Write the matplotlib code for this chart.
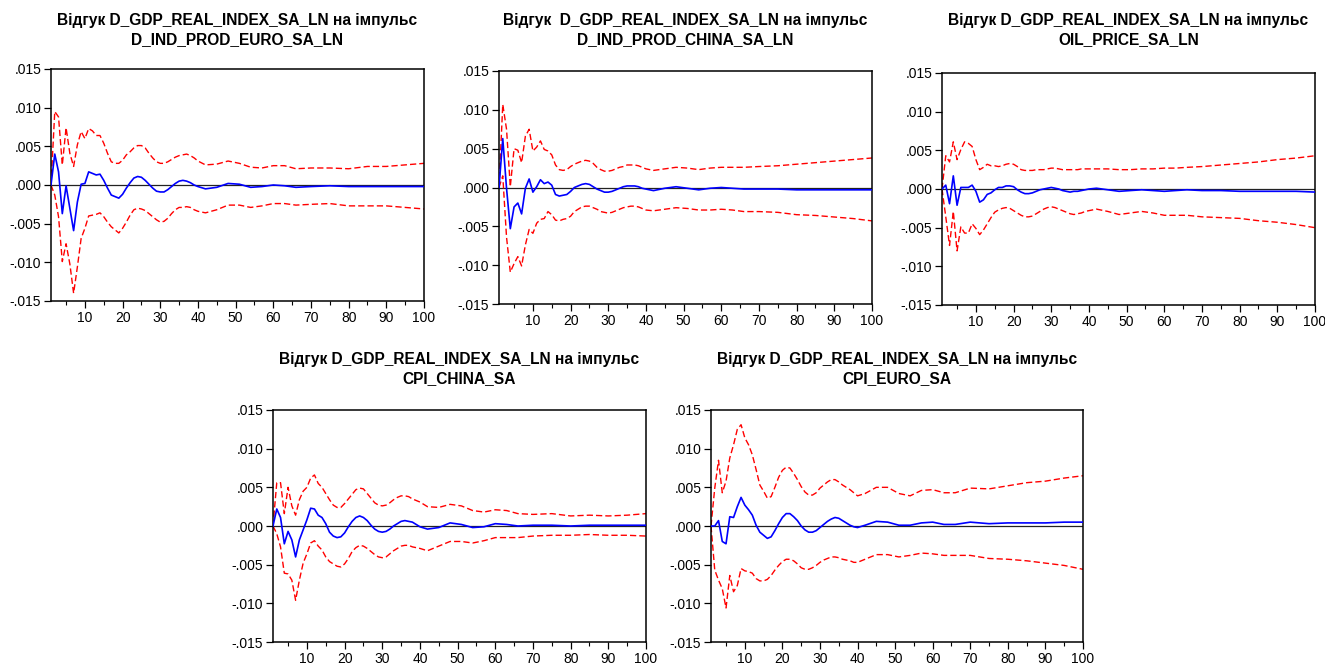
import matplotlib
matplotlib.use("Agg")
import matplotlib.pyplot as plt
from matplotlib.ticker import FixedLocator, FuncFormatter
import numpy as np

plt.rcParams["font.family"] = ["Liberation Sans", "DejaVu Sans"]

# horizon: every period up to 40, then a sparser read-off of the tail
periods = list(range(1, 41)) + [42, 45, 48, 51, 54, 57, 60, 63, 66, 70, 75, 80, 85, 90, 95, 100]

# ── response to D_IND_PROD_EURO_SA_LN ──
euro_resp = [0.0000, 0.0040, 0.0017, -0.0037, -0.0001, -0.0030, -0.0059, -0.0022, 0.0001, 0.0002,
             0.0017, 0.0015, 0.0013, 0.0014, 0.0006, -0.0004, -0.0013, -0.0015, -0.0017, -0.0012,
             -0.0004, 0.0003, 0.0009, 0.0011, 0.0010, 0.0006, 0.0001, -0.0004, -0.0008, -0.0009,
             -0.0009, -0.0006, -0.0002, 0.0002, 0.0005, 0.0006, 0.0005, 0.0003, 0.0000, -0.0002,
             -0.0005, -0.0003, 0.0002, 0.0001, -0.0003, -0.0002, 0.0000, -0.0001, -0.0003, -0.0002,
             -0.0001, -0.0002, -0.0002, -0.0002, -0.0002, -0.0002]
euro_hi = [0.0000, 0.0095, 0.0088, 0.0026, 0.0074, 0.0041, 0.0024, 0.0052, 0.0069, 0.0060,
           0.0073, 0.0070, 0.0064, 0.0064, 0.0054, 0.0041, 0.0030, 0.0028, 0.0028, 0.0032,
           0.0039, 0.0043, 0.0048, 0.0051, 0.0051, 0.0048, 0.0041, 0.0035, 0.0030, 0.0028,
           0.0028, 0.0030, 0.0033, 0.0036, 0.0038, 0.0039, 0.0040, 0.0038, 0.0035, 0.0031,
           0.0026, 0.0027, 0.0031, 0.0028, 0.0023, 0.0022, 0.0025, 0.0025, 0.0021, 0.0022,
           0.0022, 0.0021, 0.0024, 0.0024, 0.0026, 0.0028]
euro_lo = [0.0000, -0.0013, -0.0041, -0.0099, -0.0076, -0.0102, -0.0140, -0.0106, -0.0069, -0.0056,
           -0.0040, -0.0039, -0.0038, -0.0036, -0.0041, -0.0048, -0.0054, -0.0058, -0.0062, -0.0056,
           -0.0048, -0.0039, -0.0032, -0.0030, -0.0031, -0.0033, -0.0037, -0.0041, -0.0045, -0.0048,
           -0.0047, -0.0043, -0.0037, -0.0032, -0.0029, -0.0029, -0.0028, -0.0029, -0.0032, -0.0034,
           -0.0036, -0.0032, -0.0026, -0.0026, -0.0029, -0.0027, -0.0024, -0.0024, -0.0026, -0.0025,
           -0.0024, -0.0027, -0.0027, -0.0027, -0.0029, -0.0031]

# ── response to D_IND_PROD_CHINA_SA_LN ──
china_resp = [0.0000, 0.0063, -0.0001, -0.0053, -0.0025, -0.0020, -0.0034, -0.0001, 0.0011, -0.0006,
              0.0001, 0.0010, 0.0005, 0.0007, 0.0003, -0.0009, -0.0011, -0.0010, -0.0009, -0.0005,
              0.0000, 0.0002, 0.0004, 0.0005, 0.0004, 0.0001, -0.0002, -0.0004, -0.0006, -0.0006,
              -0.0005, -0.0003, -0.0001, 0.0001, 0.0002, 0.0002, 0.0002, 0.0001, -0.0001, -0.0002,
              -0.0004, -0.0001, 0.0001, -0.0001, -0.0003, -0.0001, 0.0000, -0.0001, -0.0002, -0.0002,
              -0.0002, -0.0003, -0.0003, -0.0003, -0.0003, -0.0003]
china_hi = [0.0000, 0.0107, 0.0075, 0.0001, 0.0050, 0.0048, 0.0032, 0.0066, 0.0075, 0.0047,
            0.0052, 0.0060, 0.0049, 0.0047, 0.0042, 0.0029, 0.0023, 0.0022, 0.0023, 0.0027,
            0.0030, 0.0032, 0.0034, 0.0035, 0.0034, 0.0031, 0.0026, 0.0023, 0.0021, 0.0021,
            0.0022, 0.0024, 0.0026, 0.0027, 0.0029, 0.0029, 0.0029, 0.0028, 0.0026, 0.0024,
            0.0022, 0.0024, 0.0026, 0.0025, 0.0023, 0.0025, 0.0026, 0.0026, 0.0026, 0.0027,
            0.0028, 0.0030, 0.0032, 0.0034, 0.0036, 0.0038]
china_lo = [0.0000, 0.0015, -0.0064, -0.0109, -0.0098, -0.0089, -0.0101, -0.0074, -0.0054, -0.0059,
            -0.0046, -0.0041, -0.0040, -0.0031, -0.0035, -0.0042, -0.0043, -0.0041, -0.0040, -0.0037,
            -0.0031, -0.0028, -0.0025, -0.0024, -0.0024, -0.0026, -0.0028, -0.0031, -0.0032, -0.0033,
            -0.0032, -0.0030, -0.0028, -0.0026, -0.0025, -0.0024, -0.0024, -0.0025, -0.0027, -0.0029,
            -0.0030, -0.0028, -0.0026, -0.0027, -0.0029, -0.0029, -0.0028, -0.0029, -0.0031, -0.0031,
            -0.0032, -0.0035, -0.0036, -0.0038, -0.0040, -0.0043]

# ── response to OIL_PRICE_SA_LN ──
oil_resp = [0.0000, 0.0005, -0.0019, 0.0017, -0.0021, 0.0002, 0.0002, 0.0002, 0.0005, -0.0003,
            -0.0017, -0.0014, -0.0007, -0.0005, -0.0001, 0.0002, 0.0002, 0.0004, 0.0004, 0.0003,
            -0.0001, -0.0004, -0.0006, -0.0006, -0.0005, -0.0003, -0.0001, 0.0000, 0.0001, 0.0002,
            0.0001, 0.0000, -0.0002, -0.0003, -0.0004, -0.0003, -0.0003, -0.0002, -0.0001, 0.0000,
            0.0001, -0.0001, -0.0003, -0.0002, -0.0001, -0.0002, -0.0003, -0.0002, -0.0001, -0.0002,
            -0.0002, -0.0003, -0.0003, -0.0003, -0.0003, -0.0004]
oil_hi = [0.0000, 0.0043, 0.0035, 0.0061, 0.0038, 0.0051, 0.0061, 0.0059, 0.0055, 0.0038,
          0.0025, 0.0028, 0.0032, 0.0030, 0.0030, 0.0029, 0.0030, 0.0032, 0.0033, 0.0032,
          0.0029, 0.0025, 0.0024, 0.0024, 0.0024, 0.0025, 0.0025, 0.0025, 0.0026, 0.0027,
          0.0027, 0.0026, 0.0025, 0.0025, 0.0025, 0.0025, 0.0025, 0.0026, 0.0026, 0.0026,
          0.0026, 0.0026, 0.0025, 0.0025, 0.0026, 0.0026, 0.0027, 0.0027, 0.0028, 0.0029,
          0.0031, 0.0033, 0.0035, 0.0038, 0.0040, 0.0043]
oil_lo = [0.0000, -0.0036, -0.0073, -0.0029, -0.0080, -0.0049, -0.0057, -0.0057, -0.0045, -0.0051,
          -0.0059, -0.0053, -0.0045, -0.0037, -0.0030, -0.0027, -0.0025, -0.0024, -0.0025, -0.0028,
          -0.0031, -0.0034, -0.0036, -0.0036, -0.0035, -0.0032, -0.0029, -0.0026, -0.0024, -0.0023,
          -0.0024, -0.0026, -0.0028, -0.0030, -0.0032, -0.0033, -0.0032, -0.0031, -0.0029, -0.0028,
          -0.0026, -0.0029, -0.0033, -0.0031, -0.0029, -0.0031, -0.0034, -0.0034, -0.0034, -0.0036,
          -0.0037, -0.0038, -0.0041, -0.0043, -0.0046, -0.0050]

# ── response to CPI_CHINA_SA ──
cpic_resp = [0.0000, 0.0022, 0.0011, -0.0023, -0.0007, -0.0018, -0.0040, -0.0018, -0.0005, 0.0008,
             0.0023, 0.0022, 0.0014, 0.0011, 0.0003, -0.0008, -0.0013, -0.0015, -0.0014, -0.0009,
             -0.0001, 0.0006, 0.0011, 0.0013, 0.0011, 0.0007, 0.0001, -0.0004, -0.0007, -0.0008,
             -0.0007, -0.0004, 0.0000, 0.0003, 0.0006, 0.0007, 0.0006, 0.0005, 0.0002, -0.0001,
             -0.0004, -0.0002, 0.0004, 0.0002, -0.0002, -0.0001, 0.0003, 0.0002, 0.0000, 0.0001,
             0.0001, 0.0000, 0.0001, 0.0001, 0.0001, 0.0001]
cpic_hi = [0.0000, 0.0056, 0.0056, 0.0016, 0.0050, 0.0026, 0.0014, 0.0034, 0.0045, 0.0050,
           0.0062, 0.0066, 0.0055, 0.0050, 0.0042, 0.0034, 0.0027, 0.0024, 0.0024, 0.0029,
           0.0035, 0.0041, 0.0047, 0.0049, 0.0048, 0.0042, 0.0036, 0.0030, 0.0027, 0.0026,
           0.0027, 0.0030, 0.0034, 0.0037, 0.0039, 0.0039, 0.0038, 0.0035, 0.0033, 0.0031,
           0.0025, 0.0024, 0.0028, 0.0026, 0.0020, 0.0018, 0.0021, 0.0020, 0.0016, 0.0015,
           0.0016, 0.0013, 0.0014, 0.0013, 0.0014, 0.0016]
cpic_lo = [0.0000, -0.0010, -0.0027, -0.0061, -0.0062, -0.0070, -0.0096, -0.0070, -0.0048, -0.0036,
           -0.0022, -0.0019, -0.0026, -0.0031, -0.0040, -0.0046, -0.0049, -0.0052, -0.0053, -0.0049,
           -0.0042, -0.0033, -0.0028, -0.0025, -0.0026, -0.0029, -0.0033, -0.0037, -0.0040, -0.0041,
           -0.0040, -0.0036, -0.0032, -0.0029, -0.0026, -0.0025, -0.0025, -0.0027, -0.0028, -0.0029,
           -0.0032, -0.0026, -0.0020, -0.0020, -0.0022, -0.0019, -0.0015, -0.0015, -0.0015, -0.0013,
           -0.0012, -0.0012, -0.0011, -0.0012, -0.0012, -0.0013]

# ── response to CPI_EURO_SA ──
cpie_resp = [0.0000, 0.0000, 0.0007, -0.0020, -0.0023, 0.0012, 0.0011, 0.0025, 0.0037, 0.0027,
             0.0021, 0.0014, 0.0001, -0.0008, -0.0012, -0.0016, -0.0014, -0.0006, 0.0003, 0.0011,
             0.0016, 0.0016, 0.0012, 0.0007, 0.0000, -0.0005, -0.0008, -0.0008, -0.0006, -0.0002,
             0.0002, 0.0006, 0.0009, 0.0011, 0.0010, 0.0007, 0.0004, 0.0001, -0.0001, -0.0002,
             0.0001, 0.0006, 0.0005, 0.0001, 0.0001, 0.0004, 0.0005, 0.0002, 0.0002, 0.0005,
             0.0003, 0.0004, 0.0004, 0.0004, 0.0005, 0.0005]
cpie_hi = [0.0000, 0.0049, 0.0085, 0.0043, 0.0058, 0.0088, 0.0105, 0.0125, 0.0131, 0.0114,
           0.0105, 0.0092, 0.0073, 0.0053, 0.0045, 0.0036, 0.0038, 0.0050, 0.0063, 0.0072,
           0.0076, 0.0075, 0.0068, 0.0060, 0.0051, 0.0044, 0.0040, 0.0040, 0.0043, 0.0049,
           0.0053, 0.0057, 0.0060, 0.0060, 0.0057, 0.0053, 0.0050, 0.0047, 0.0043, 0.0039,
           0.0042, 0.0050, 0.0050, 0.0042, 0.0039, 0.0046, 0.0047, 0.0043, 0.0043, 0.0049,
           0.0048, 0.0052, 0.0056, 0.0058, 0.0062, 0.0065]
cpie_lo = [0.0000, -0.0057, -0.0070, -0.0081, -0.0106, -0.0064, -0.0085, -0.0077, -0.0055, -0.0058,
           -0.0059, -0.0061, -0.0068, -0.0071, -0.0071, -0.0069, -0.0064, -0.0057, -0.0051, -0.0046,
           -0.0043, -0.0043, -0.0045, -0.0049, -0.0054, -0.0056, -0.0056, -0.0054, -0.0051, -0.0047,
           -0.0044, -0.0042, -0.0040, -0.0040, -0.0041, -0.0043, -0.0044, -0.0045, -0.0047, -0.0047,
           -0.0043, -0.0037, -0.0037, -0.0040, -0.0038, -0.0035, -0.0036, -0.0038, -0.0038, -0.0038,
           -0.0042, -0.0043, -0.0045, -0.0048, -0.0051, -0.0056]

titles = [
    "Відгук D_GDP_REAL_INDEX_SA_LN на імпульс\nD_IND_PROD_EURO_SA_LN",
    "Відгук  D_GDP_REAL_INDEX_SA_LN на імпульс\nD_IND_PROD_CHINA_SA_LN",
    "Відгук D_GDP_REAL_INDEX_SA_LN на імпульс\nOIL_PRICE_SA_LN",
    "Відгук D_GDP_REAL_INDEX_SA_LN на імпульс\nCPI_CHINA_SA",
    "Відгук D_GDP_REAL_INDEX_SA_LN на імпульс\nCPI_EURO_SA",
]
series = [
    (euro_resp, euro_hi, euro_lo),
    (china_resp, china_hi, china_lo),
    (oil_resp, oil_hi, oil_lo),
    (cpic_resp, cpic_hi, cpic_lo),
    (cpie_resp, cpie_hi, cpie_lo),
]

W, H = 1325, 668
# axes boxes in pixels: left, top, right, bottom
boxes = [
    (51, 69, 424, 301),
    (499, 71, 872, 304),
    (942, 73, 1315, 305),
    (273, 410, 646, 642),
    (711, 410, 1083, 642),
]
title_mid_y = [30, 30, 30, 369, 369]


def ytick_fmt(v, pos):
    s = f"{v:.3f}"
    return s.replace("0.", ".", 1)


fig = plt.figure(figsize=(W / 100, H / 100), dpi=100)

for (l, t, r, b), title, ty, (resp, hi, lo) in zip(boxes, titles, title_mid_y, series):
    ax = fig.add_axes([l / W, 1 - b / H, (r - l) / W, (b - t) / H])
    ax.axhline(0, color="#222222", linewidth=0.9, zorder=1)
    ax.plot(periods, hi, color="#ff0000", linewidth=1.0, dashes=(4.5, 2.2), zorder=2)
    ax.plot(periods, lo, color="#ff0000", linewidth=1.0, dashes=(4.5, 2.2), zorder=2)
    ax.plot(periods, resp, color="#0000ff", linewidth=1.2, zorder=3)

    ax.set_xlim(1, 100)
    ax.set_ylim(-0.015, 0.015)
    ax.yaxis.set_major_locator(FixedLocator([-0.015, -0.010, -0.005, 0.0, 0.005, 0.010, 0.015]))
    ax.yaxis.set_major_formatter(FuncFormatter(ytick_fmt))
    ax.xaxis.set_major_locator(FixedLocator(range(10, 101, 10)))
    ax.xaxis.set_minor_locator(FixedLocator(range(5, 100, 10)))
    ax.tick_params(axis="both", which="major", direction="out", length=5, width=0.9,
                   labelsize=10, colors="black", pad=2)
    ax.tick_params(axis="x", which="minor", direction="out", length=3, width=0.8)
    for sp in ax.spines.values():
        sp.set_linewidth(1.1)
        sp.set_color("black")

    cx = (l + r) / 2 / W
    fig.text(cx, 1 - ty / H, title, ha="center", va="center", fontsize=11.2,
             fontweight="bold", linespacing=1.3)

fig.savefig("out.png", dpi=100)
